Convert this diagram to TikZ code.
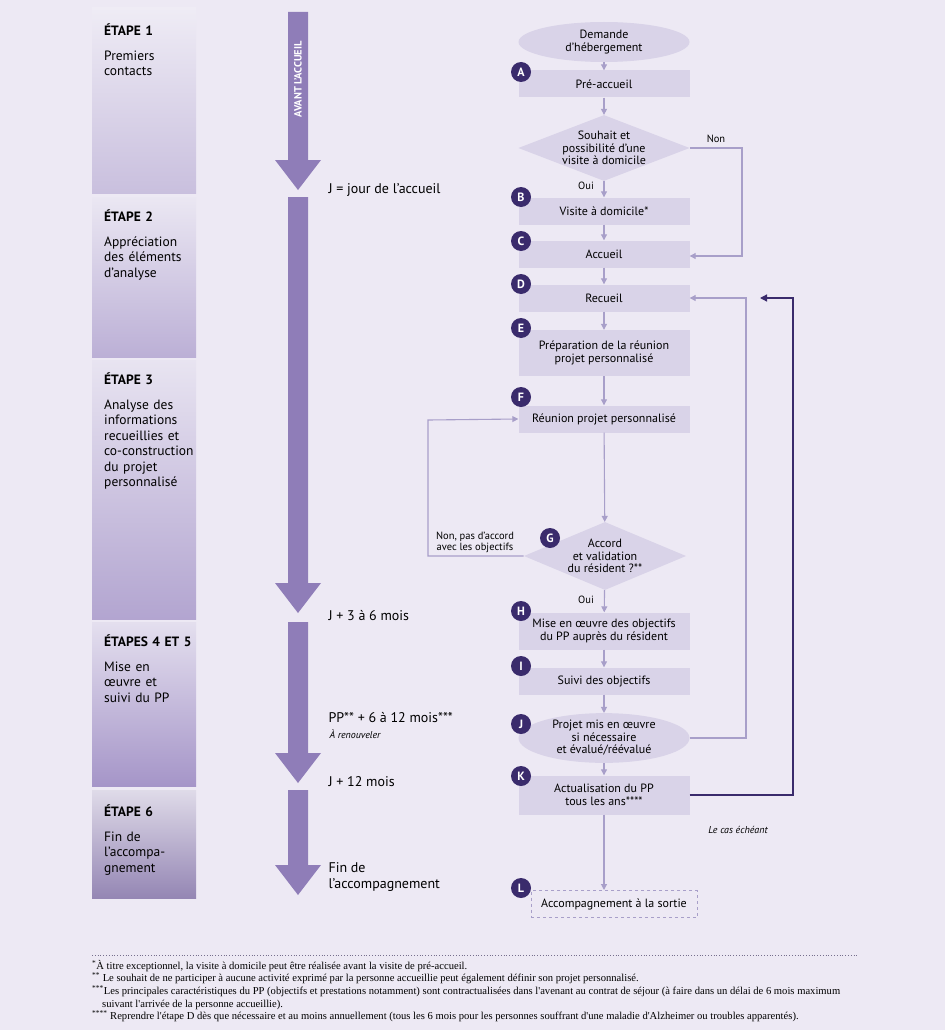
\documentclass[tikz,border=0pt]{standalone}
\usepackage{fontspec}
\setmainfont{PT Sans}
\newfontfamily\fnserif{Liberation Serif}
\usetikzlibrary{arrows.meta,shapes.geometric,calc}
\definecolor{bg}{HTML}{EDE9F4}
\definecolor{boxc}{HTML}{D9D3E8}
\definecolor{dark}{HTML}{3A2B6C}
\definecolor{flow}{HTML}{A89FC9}
\definecolor{bigc}{HTML}{8F7DB8}
\definecolor{stg}{HTML}{A595C8}
\tikzset{
 x=1pt,y=-1pt,
 box/.style={draw=none,fill=boxc,minimum width=171pt,align=center,font=\fontsize{12}{12.5}\selectfont,inner sep=1pt},
 dia/.style={diamond,fill=boxc,aspect=2.6,inner sep=0pt,align=center,font=\fontsize{12}{12.5}\selectfont},
 ell/.style={ellipse,fill=boxc,minimum width=171pt,align=center,font=\fontsize{12}{12.5}\selectfont,inner sep=0pt},
 lt/.style={circle,fill=dark,text=white,font=\bfseries\fontsize{12}{12}\selectfont,minimum size=20pt,inner sep=0pt},
 fl/.style={draw=flow,line width=1.1pt,-{Triangle[length=6pt,width=6pt]}},
 fld/.style={draw=dark,line width=1.3pt,-{Triangle[length=7pt,width=7pt]}},
 stage/.style={anchor=north west,align=left,font=\fontsize{13.5}{15.5}\selectfont,text width=95pt,inner sep=0pt},
 lab/.style={anchor=west,font=\fontsize{14}{16}\selectfont,align=left},
 sm/.style={font=\fontsize{10.5}{11}\selectfont}
}
\newcommand{\bigarrow}[2]{\fill[bigc] (288,#1) -- (308,#1) -- (308,#2-30) -- (321,#2-30) -- (298,#2) -- (275,#2-30) -- (288,#2-30) -- cycle;}
\newcommand{\stagebox}[3]{\shade[top color=#3!30!white,bottom color=#3] (92,#1) rectangle (196,#2);}
\begin{document}
\begin{tikzpicture}
\fill[bg] (0,0) rectangle (945,1030);
\useasboundingbox (0,0) rectangle (945,1030);
% stages
\stagebox{8}{193}{stg!60!white}
\stagebox{197}{357}{stg!75!white}
\stagebox{360}{619}{stg!85!white}
\stagebox{622}{786}{stg}
\stagebox{790}{898}{stg!90!black}
\node[stage] (s1) at (104,24) {\textbf{ÉTAPE 1}\\[9pt]Premiers\\contacts};
\node[stage] (s2) at (104,210) {\textbf{ÉTAPE 2}\\[9pt]Appréciation\\des éléments\\d'analyse};
\node[stage] (s3) at (104,373) {\textbf{ÉTAPE 3}\\[9pt]Analyse des\\informations\\recueillies et\\co-construction\\du projet\\personnalisé};
\node[stage] (s4) at (104,635) {\textbf{ÉTAPES 4 ET 5}\\[9pt]Mise en\\œuvre et\\suivi du PP};
\node[stage] (s5) at (104,805) {\textbf{ÉTAPE 6}\\[9pt]Fin de\\l'accompa-\\gnement};
% big arrows
\bigarrow{12}{190}
\bigarrow{197}{613}
\bigarrow{622}{783}
\bigarrow{790}{895}
\node[rotate=90,anchor=east,text=white,font=\bfseries\fontsize{10.5}{11}\selectfont] (av) at (298,38) {AVANT L'ACCUEIL};
\node[lab] (j0) at (325,190) {J = jour de l'accueil};
\node[lab] (j1) at (325,616) {J + 3 à 6 mois};
\node[lab] (j2) at (325,718) {PP** + 6 à 12 mois***};
\node[anchor=west,font=\itshape\fontsize{10}{11}\selectfont] (ren) at (326,734) {À renouveler};
\node[lab] (j3) at (325,782) {J + 12 mois};
\node[lab] (j4) at (325,877) {Fin de\\l'accompagnement};
% flow nodes
\node[ell,minimum height=40pt] (dem) at (604,42) {Demande\\d'hébergement};
\node[box,minimum height=27pt] (A) at (604,84) {Pré-accueil};
\node[dia,minimum width=159pt,minimum height=60pt] (d1) at (604,148) {Souhait et\\possibilité d'une\\visite à domicile};
\node[box,minimum height=27pt] (B) at (604,211) {Visite à domicile*};
\node[box,minimum height=27pt] (C) at (604,254) {Accueil};
\node[box,minimum height=27pt] (D) at (604,298) {Recueil};
\node[box,minimum height=46pt] (E) at (604,353) {Préparation de la réunion\\projet personnalisé};
\node[box,minimum height=27pt] (F) at (604,419) {Réunion projet personnalisé};
\node[dia,minimum width=157pt,minimum height=68pt] (G) at (605,556) {Accord\\et validation\\du résident ?**};
\node[box,minimum height=37pt] (H) at (604,631) {Mise en œuvre des objectifs\\du PP auprès du résident};
\node[box,minimum height=27pt] (I) at (604,681) {Suivi des objectifs};
\node[ell,minimum height=44pt] (J) at (604,738) {Projet mis en œuvre\\si nécessaire\\et évalué/réévalué};
\node[box,minimum height=39pt] (K) at (604,795) {Actualisation du PP\\tous les ans****};
\node[box,fill=none,draw=flow,dashed,line width=1pt,minimum width=166pt,minimum height=27pt] (L) at (614,904) {Accompagnement à la sortie};
% letters
\node[lt] (la) at (521,72) {A};
\node[lt] (lb) at (521,197) {B};
\node[lt] (lc) at (521,241) {C};
\node[lt] (ld) at (521,284) {D};
\node[lt] (le) at (521,328) {E};
\node[lt] (lf) at (521,397) {F};
\node[lt] (lg) at (550,538) {G};
\node[lt] (lh) at (521,611) {H};
\node[lt] (li) at (521,666) {I};
\node[lt] (lj) at (521,724) {J};
\node[lt] (lk) at (521,776) {K};
\node[lt] (ll) at (521,888) {L};
% connectors
\draw[fl] (dem) -- (A);
\draw[fl] (A) -- (d1);
\draw[fl] (d1) -- (B);
\draw[fl] (B) -- (C);
\draw[fl] (C) -- (D);
\draw[fl] (D) -- (E);
\draw[fl] (E) -- (F);
\draw[fl] (F) -- (G);
\draw[fl] (G) -- (H);
\draw[fl] (H) -- (I);
\draw[fl] (I) -- (J);
\draw[fl] (J) -- (K);
\draw[fl] (K.south) -- (K.south |- L.north);
\draw[fl] (d1.east) -- (742,148) -- (742,256) -- (C.east |- 0,256);
\draw[fl] (G.west) -- (428,556) -- (428,420) -- (F.west);
\draw[fl] (J.east) -- (746,738) -- (746,298) -- (D.east);
\coordinate (kd) at (760,298);
\draw[fld] (K.east) -- (793,795) -- (793,298) -- (kd);
\node[sm,anchor=south] (non1) at (716,146) {Non};
\node[sm] (oui1) at (586,186) {Oui};
\node[sm] (oui2) at (586,600) {Oui};
\node[sm,align=center] (non2) at (475,542) {Non, pas d'accord\\avec les objectifs};
\node[font=\itshape\fontsize{10}{11}\selectfont] (cas) at (738,830) {Le cas échéant};
% footnotes
\draw[flow!70!black,dotted,line width=0.8pt] (92,955) -- (857,955);
\node[anchor=north west,align=left,font=\fnserif\fontsize{10.6}{12.6}\selectfont,inner sep=0pt] (fn) at (92,960) {%
\textsuperscript{*}À titre exceptionnel, la visite à domicile peut être réalisée avant la visite de pré-accueil.\\
\textsuperscript{**} Le souhait de ne participer à aucune activité exprimé par la personne accueillie peut également définir son projet personnalisé.\\
\textsuperscript{***}Les principales caractéristiques du PP (objectifs et prestations notamment) sont contractualisées dans l'avenant au contrat de séjour (à faire dans un délai de 6 mois maximum\\
\hspace*{10pt}suivant l'arrivée de la personne accueillie).\\
\textsuperscript{****} Reprendre l'étape D dès que nécessaire et au moins annuellement (tous les 6 mois pour les personnes souffrant d'une maladie d'Alzheimer ou troubles apparentés).};
\end{tikzpicture}
\end{document}
